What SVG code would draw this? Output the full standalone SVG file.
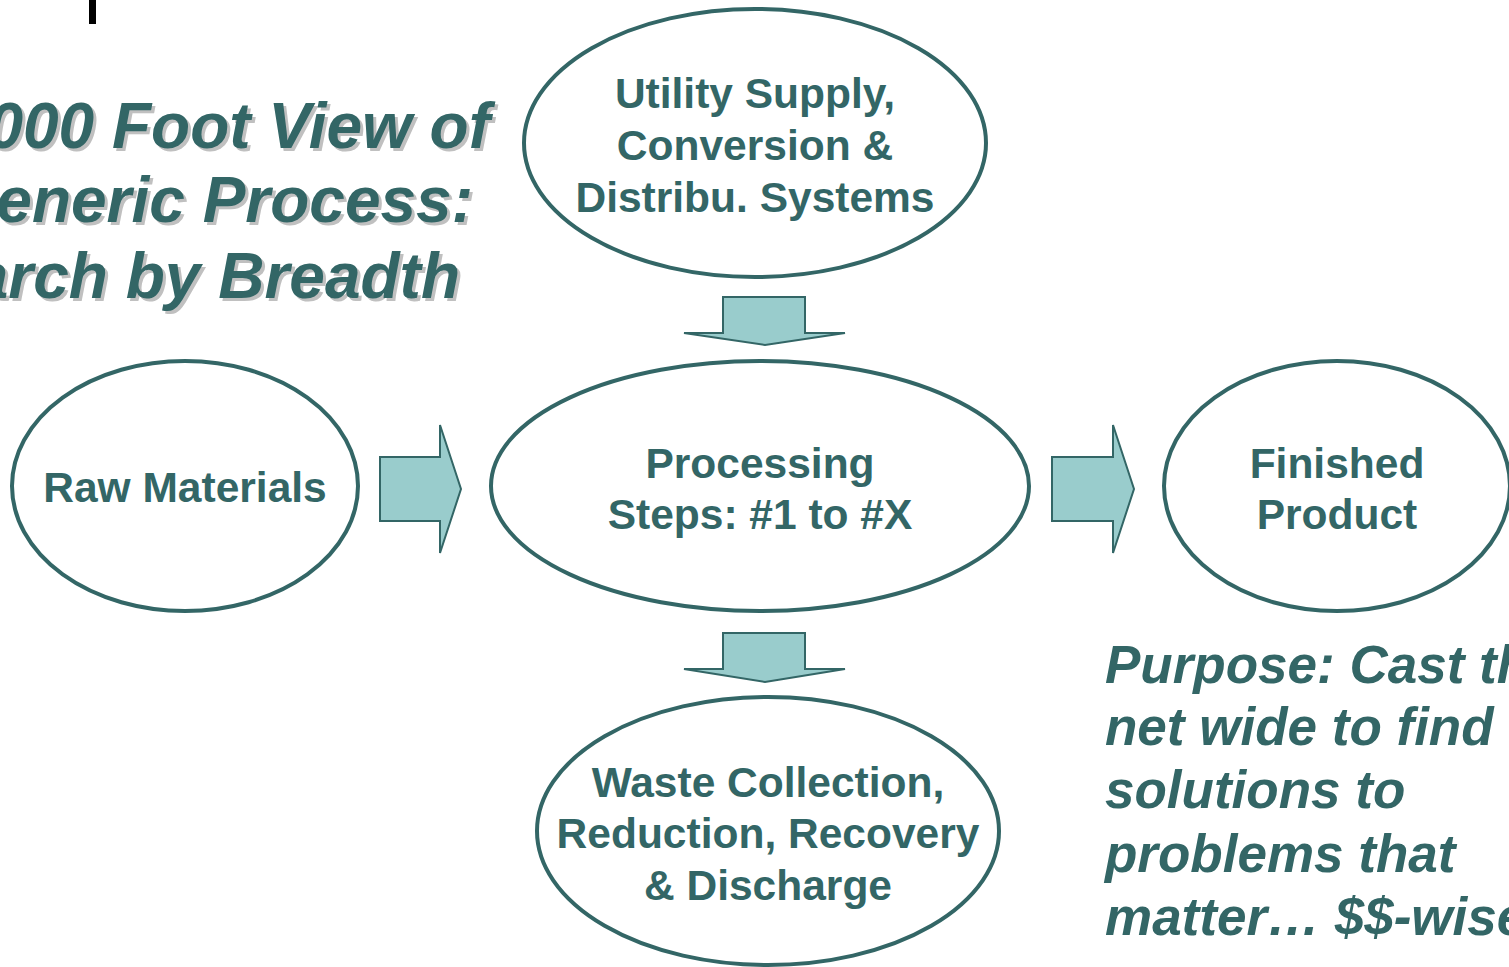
<svg xmlns="http://www.w3.org/2000/svg" width="1509" height="967" viewBox="0 0 1509 967">
<style>
.node ellipse{fill:#fff;stroke:#336666;stroke-width:4}
.lbl{font-family:"Liberation Sans",Arial,sans-serif;font-weight:bold;font-size:42.5px;fill:#336666;text-anchor:middle}
.ttl{font-family:"Liberation Sans",Arial,sans-serif;font-weight:bold;font-style:italic;font-size:64px;fill:#336666;text-anchor:end}
.ttl-sh{fill:#c0c0c0}
.pur{font-family:"Liberation Sans",Arial,sans-serif;font-weight:bold;font-style:italic;font-size:53px;fill:#336666}
.arr{fill:#99cccc;stroke:#336666;stroke-width:2;stroke-linejoin:miter}
</style>
<rect x="89" y="0" width="7" height="24" fill="#000"/>
<g id="title">
<text class="ttl ttl-sh" x="493" y="151">000 Foot View of</text>
<text class="ttl ttl-sh" x="476" y="225">eneric Process:</text>
<text class="ttl ttl-sh" x="463" y="301">arch by Breadth</text>
<text class="ttl" x="490" y="148">000 Foot View of</text>
<text class="ttl" x="473" y="222">eneric Process:</text>
<text class="ttl" x="460" y="298">arch by Breadth</text>
</g>
<g id="connectors">
<path class="arr" d="M723,297 H805 V333 H845 L765,345 L684,333 H723 Z"/>
<path class="arr" d="M723,633 H805 V669 H845 L765,682 L684,669 H723 Z"/>
<path class="arr" d="M380,457 H440 V425 L461,489 L440,553 V521 H380 Z"/>
<path class="arr" d="M1052,457 H1113 V425 L1134,489 L1113,553 V521 H1052 Z"/>
</g>
<g id="utility" class="node">
<ellipse cx="755" cy="143" rx="231" ry="134"/>
<text class="lbl" x="755" y="108">Utility Supply,</text>
<text class="lbl" x="755" y="160">Conversion &amp;</text>
<text class="lbl" x="755" y="212">Distribu. Systems</text>
</g>
<g id="raw" class="node">
<ellipse cx="185" cy="486" rx="173" ry="125"/>
<text class="lbl" x="185" y="502">Raw Materials</text>
</g>
<g id="processing" class="node">
<ellipse cx="760" cy="486" rx="269" ry="125"/>
<text class="lbl" x="760" y="478">Processing</text>
<text class="lbl" x="760" y="529">Steps: #1 to #X</text>
</g>
<g id="finished" class="node">
<ellipse cx="1337" cy="486" rx="173" ry="125"/>
<text class="lbl" x="1337" y="478">Finished</text>
<text class="lbl" x="1337" y="529">Product</text>
</g>
<g id="waste" class="node">
<ellipse cx="768" cy="831" rx="231" ry="134"/>
<text class="lbl" x="768" y="797">Waste Collection,</text>
<text class="lbl" x="768" y="848">Reduction, Recovery</text>
<text class="lbl" x="768" y="900">&amp; Discharge</text>
</g>
<g id="purpose">
<text class="pur" x="1105" y="683">Purpose: Cast th</text>
<text class="pur" x="1105" y="745">net wide to find</text>
<text class="pur" x="1105" y="808">solutions to</text>
<text class="pur" x="1105" y="872">problems that</text>
<text class="pur" x="1105" y="935">matter… $$-wise</text>
</g>
</svg>
